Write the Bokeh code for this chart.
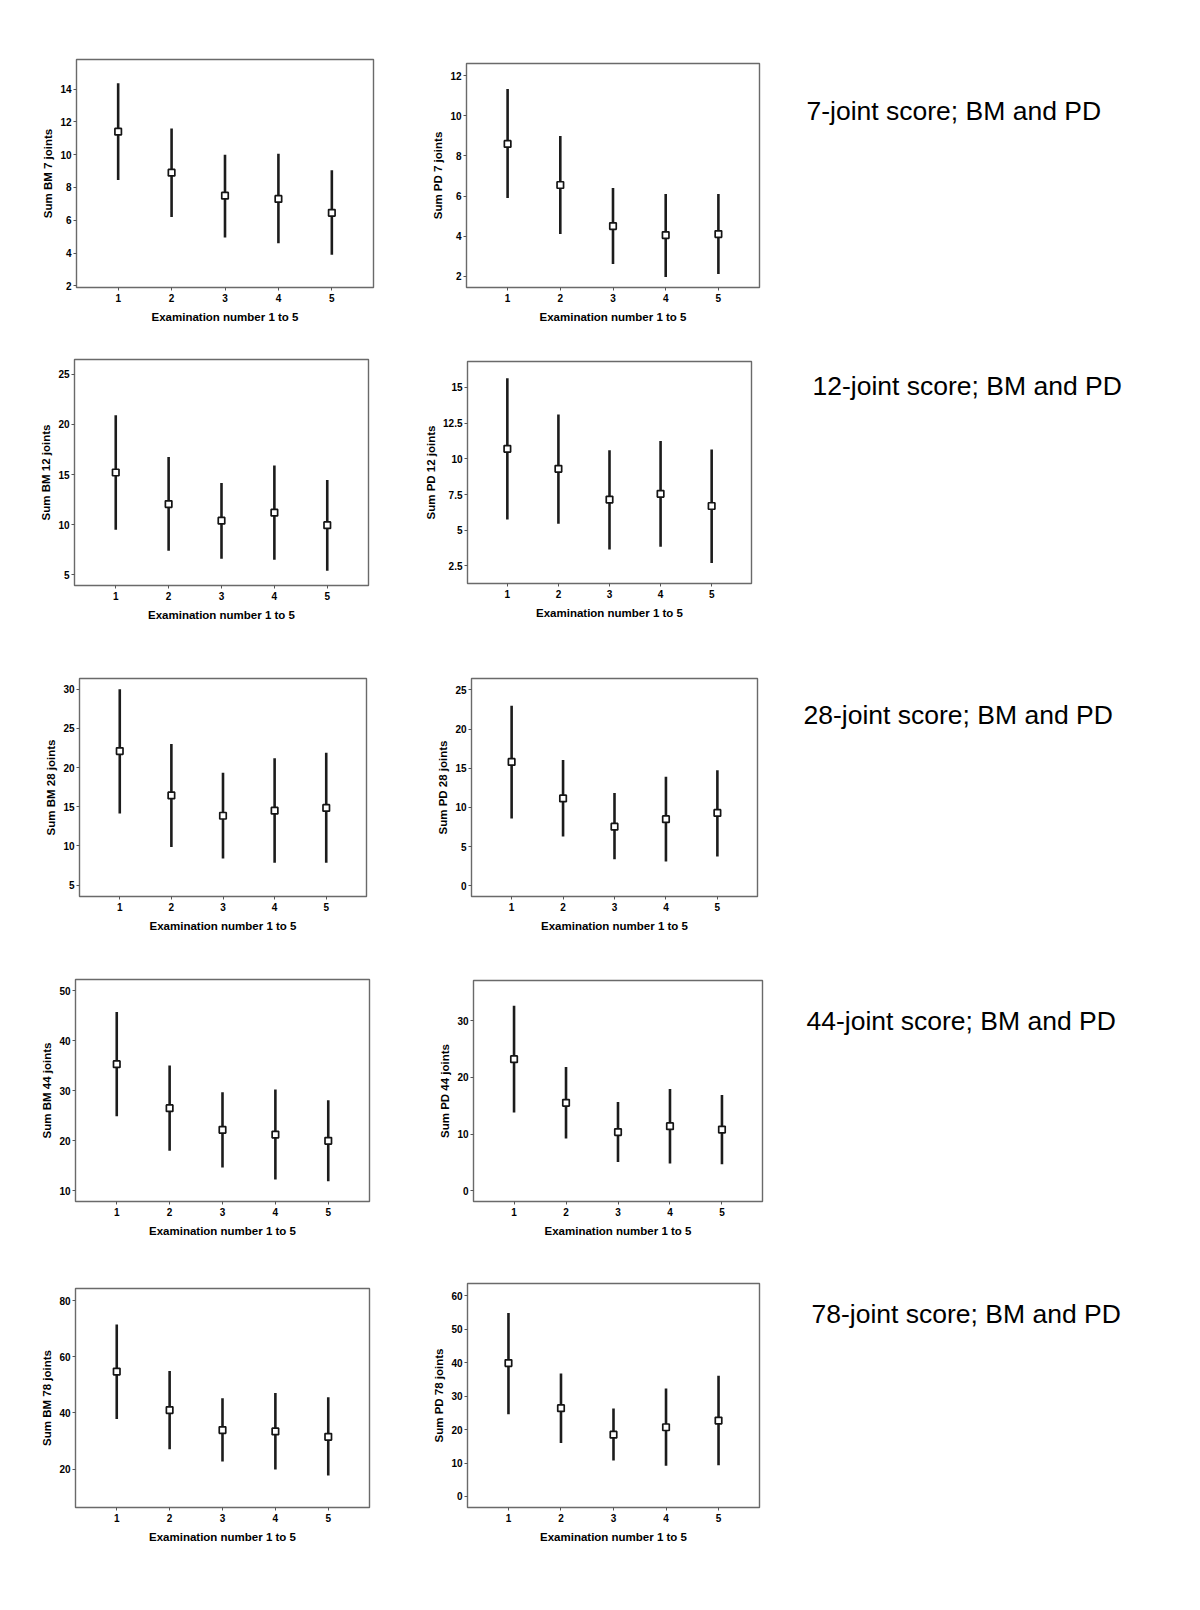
from bokeh.plotting import figure
from bokeh.layouts import row, column
from bokeh.models import Range1d, FixedTicker, CustomJSTickFormatter, Label
from bokeh.embed import file_html
from bokeh.resources import INLINE

# ---------------- data ----------------
exam = [1, 2, 3, 4, 5]
x_ticks = [1, 2, 3, 4, 5]

bm7_mean = [11.4, 8.9, 7.5, 7.3, 6.45]
bm7_hi = [14.35, 11.6, 10.0, 10.05, 9.05]
bm7_lo = [8.45, 6.2, 4.95, 4.6, 3.9]

pd7_mean = [8.6, 6.55, 4.5, 4.05, 4.1]
pd7_hi = [11.35, 9.0, 6.4, 6.1, 6.1]
pd7_lo = [5.9, 4.1, 2.6, 1.95, 2.1]

bm12_mean = [15.2, 12.05, 10.4, 11.2, 9.95]
bm12_hi = [20.9, 16.75, 14.15, 15.9, 14.45]
bm12_lo = [9.5, 7.4, 6.6, 6.5, 5.4]

pd12_mean = [10.7, 9.3, 7.15, 7.55, 6.7]
pd12_hi = [15.65, 13.1, 10.6, 11.25, 10.65]
pd12_lo = [5.75, 5.45, 3.65, 3.85, 2.7]

bm28_mean = [22.1, 16.45, 13.85, 14.5, 14.85]
bm28_hi = [30.0, 23.0, 19.35, 21.2, 21.9]
bm28_lo = [14.15, 9.85, 8.4, 7.85, 7.85]

pd28_mean = [15.8, 11.15, 7.55, 8.5, 9.3]
pd28_hi = [22.95, 16.05, 11.85, 13.9, 14.75]
pd28_lo = [8.6, 6.3, 3.4, 3.1, 3.75]

bm44_mean = [35.3, 26.5, 22.15, 21.2, 19.95]
bm44_hi = [45.75, 35.05, 29.7, 30.25, 28.1]
bm44_lo = [24.9, 17.95, 14.6, 12.2, 11.85]

pd44_mean = [23.2, 15.5, 10.35, 11.4, 10.8]
pd44_hi = [32.6, 21.8, 15.65, 17.95, 16.9]
pd44_lo = [13.8, 9.2, 5.1, 4.8, 4.7]

bm78_mean = [54.7, 41.0, 33.9, 33.4, 31.5]
bm78_hi = [71.45, 54.9, 45.2, 47.1, 45.55]
bm78_lo = [37.8, 27.1, 22.7, 19.9, 17.7]

pd78_mean = [39.9, 26.4, 18.5, 20.7, 22.7]
pd78_hi = [54.9, 36.8, 26.3, 32.3, 36.1]
pd78_lo = [24.6, 16.0, 10.8, 9.2, 9.35]

bm7_ticks = [2, 4, 6, 8, 10, 12, 14]
pd7_ticks = [2, 4, 6, 8, 10, 12]
bm12_ticks = [5, 10, 15, 20, 25]
pd12_ticks = [2.5, 5, 7.5, 10, 12.5, 15]
bm28_ticks = [5, 10, 15, 20, 25, 30]
pd28_ticks = [0, 5, 10, 15, 20, 25]
bm44_ticks = [10, 20, 30, 40, 50]
pd44_ticks = [0, 10, 20, 30]
bm78_ticks = [20, 40, 60, 80]
pd78_ticks = [0, 10, 20, 30, 40, 50, 60]

row_titles = ["7-joint score; BM and PD", "12-joint score; BM and PD",
              "28-joint score; BM and PD", "44-joint score; BM and PD",
              "78-joint score; BM and PD"]
x_label = "Examination number 1 to 5"

# ---------------- layout (page pixels) ----------------
row_tops = [0, 330, 640, 945, 1245]
row_bottoms = [330, 640, 945, 1245, 1560]
BM_X0, BM_X1 = 0, 410
PD_X0, PD_X1 = 410, 780
TT_X0, TT_X1 = 780, 1190

FONT = "Liberation Sans"


def panel(mean, lo, hi, ylabel, yr, yticks, frame, fig_x0, fig_x1, r):
    fl, ft, fr, fb = frame
    top, bot = row_tops[r], row_bottoms[r]
    W = fig_x1 - fig_x0
    H = bot - top
    p = figure(width=W, height=H, title=None,
               x_range=Range1d(0.22, 5.78), y_range=Range1d(*yr),
               min_border_left=fl - fig_x0, min_border_right=fig_x1 - fr,
               min_border_top=ft - top, min_border_bottom=bot - fb,
               toolbar_location=None, output_backend="svg")
    p.xgrid.visible = False
    p.ygrid.visible = False
    p.outline_line_color = "#6a6a6a"
    p.outline_line_width = 1.4
    p.background_fill_color = "white"
    p.border_fill_color = "white"

    p.segment(x0=exam, y0=lo, x1=exam, y1=hi, line_width=2.6, line_color="#1c1c1c")
    p.scatter(x=exam, y=mean, marker="square", size=6.5, fill_color="white",
              line_color="#151515", line_width=1.7)

    fmt = CustomJSTickFormatter(code="return String(tick);")
    for ax in (p.xaxis[0], p.yaxis[0]):
        ax.axis_line_color = None
        ax.major_tick_in = 0
        ax.major_tick_out = 3
        ax.major_tick_line_color = "#555555"
        ax.minor_tick_line_color = None
        ax.major_label_text_font = FONT
        ax.major_label_text_font_style = "bold"
        ax.major_label_text_font_size = "10px"
        ax.major_label_text_color = "black"
        ax.axis_label_text_font = FONT
        ax.axis_label_text_font_style = "bold"
        ax.axis_label_text_font_size = "11.5px"
        ax.axis_label_text_color = "black"
        ax.formatter = fmt
    p.xaxis[0].ticker = FixedTicker(ticks=x_ticks)
    p.yaxis[0].ticker = FixedTicker(ticks=yticks)
    p.xaxis[0].axis_label = x_label
    p.yaxis[0].axis_label = ylabel
    p.xaxis[0].major_label_standoff = 3
    p.xaxis[0].axis_label_standoff = 6
    p.yaxis[0].major_label_standoff = 2
    p.yaxis[0].axis_label_standoff = 3
    return p


def title_fig(text, tx, ty, r, frames):
    # borders equal to the largest of the row's panels, so the frame is known
    top, bot = row_tops[r], row_bottoms[r]
    H = bot - top
    W = TT_X1 - TT_X0
    bt = max(f[1] for f in frames) - top
    bb = bot - min(f[3] for f in frames)
    p = figure(width=W, height=H, title=None,
               x_range=Range1d(0, W), y_range=Range1d(H - bb, bt),
               x_axis_type=None, y_axis_type=None,
               min_border_left=0, min_border_right=0,
               min_border_top=bt, min_border_bottom=bb,
               toolbar_location=None, output_backend="svg")
    p.outline_line_color = None
    p.add_layout(Label(x=tx - TT_X0, y=ty - top, text=text,
                       text_font=FONT, text_font_size="26.5px", text_color="black",
                       text_baseline="middle", text_align="left"))
    return p


panels = [
    ((bm7_mean, bm7_lo, bm7_hi, "Sum BM 7 joints", (1.9, 15.8), bm7_ticks, (76, 59, 373, 287)),
     (pd7_mean, pd7_lo, pd7_hi, "Sum PD 7 joints", (1.43, 12.62), pd7_ticks, (466, 63, 759, 287)),
     (806, 110)),
    ((bm12_mean, bm12_lo, bm12_hi, "Sum BM 12 joints", (3.94, 26.46), bm12_ticks, (74, 359, 368, 585)),
     (pd12_mean, pd12_lo, pd12_hi, "Sum PD 12 joints", (1.27, 16.82), pd12_ticks, (467, 361, 751, 583)),
     (812, 385)),
    ((bm28_mean, bm28_lo, bm28_hi, "Sum BM 28 joints", (3.55, 31.36), bm28_ticks, (79, 678, 366, 896)),
     (pd28_mean, pd28_lo, pd28_hi, "Sum PD 28 joints", (-1.36, 26.44), pd28_ticks, (471, 678, 757, 896)),
     (803, 714)),
    ((bm44_mean, bm44_lo, bm44_hi, "Sum BM 44 joints", (7.8, 52.27), bm44_ticks, (75, 979, 369, 1201)),
     (pd44_mean, pd44_lo, pd44_hi, "Sum PD 44 joints", (-1.88, 37.06), pd44_ticks, (473, 980, 762, 1201)),
     (806, 1020)),
    ((bm78_mean, bm78_lo, bm78_hi, "Sum BM 78 joints", (6.34, 84.28), bm78_ticks, (75, 1288, 369, 1507)),
     (pd78_mean, pd78_lo, pd78_hi, "Sum PD 78 joints", (-3.29, 63.69), pd78_ticks, (467, 1283, 759, 1507)),
     (811, 1313)),
]

rows = []
for r, (bm, pd, tpos) in enumerate(panels):
    f1 = panel(*bm, BM_X0, BM_X1, r)
    f2 = panel(*pd, PD_X0, PD_X1, r)
    f3 = title_fig(row_titles[r], tpos[0], tpos[1], r, [bm[6], pd[6]])
    # each figure in its own column so that their frames are laid out independently
    rows.append(row(column(f1), column(f2), column(f3), spacing=0))

layout = column(*rows, spacing=0)

open("out.html", "w").write(file_html(layout, INLINE))
